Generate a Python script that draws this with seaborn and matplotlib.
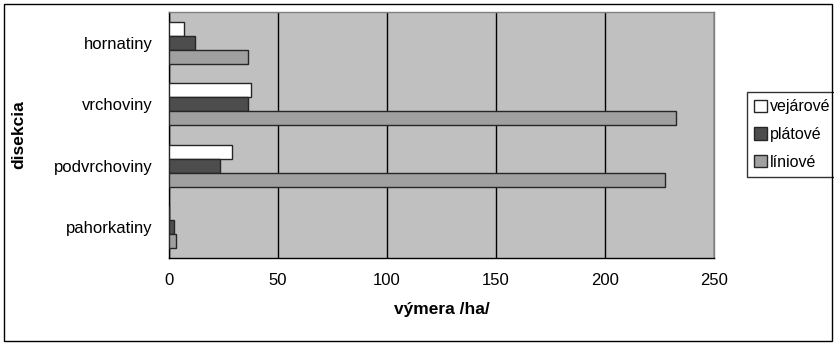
import numpy as np
import pandas as pd
import seaborn as sns
import matplotlib.pyplot as plt
from matplotlib.patches import Rectangle

# data
kategorie = ['hornatiny', 'vrchoviny', 'podvrchoviny', 'pahorkatiny']
vejarove = [6.8, 37.8, 28.8, 0.0]
platove = [11.7, 36.3, 23.2, 2.4]
liniove = [36.3, 232.4, 227.3, 3.2]
typy = ['vejárové', 'plátové', 'líniové']
farby = ['#FFFFFF', '#4D4D4D', '#A0A0A0']

df = pd.DataFrame({
    'disekcia': kategorie * 3,
    'typ': [typy[0]] * 4 + [typy[1]] * 4 + [typy[2]] * 4,
    'vymera': vejarove + platove + liniove,
})

sns.set_style('white')
plt.rcParams['font.family'] = ['Liberation Sans', 'DejaVu Sans']
plt.rcParams['text.color'] = 'black'
plt.rcParams['xtick.color'] = 'black'
plt.rcParams['ytick.color'] = 'black'
plt.rcParams['axes.labelcolor'] = 'black'

fig = plt.figure(figsize=(8.34, 3.45), dpi=100)
ax = fig.add_axes([169 / 834, 1 - 258 / 345, (714 - 169) / 834, (258 - 12) / 345])

sns.barplot(data=df, y='disekcia', x='vymera', hue='typ', order=kategorie,
            hue_order=typy, palette=farby, orient='h', width=0.68,
            edgecolor='#262626', linewidth=1.0, ax=ax, zorder=3)

ax.set_facecolor('#C0C0C0')
ax.set_xlim(0, 250)
ax.set_ylim(3.5, -0.5)
ax.set_xticks([0, 50, 100, 150, 200, 250])
ax.xaxis.grid(True, color='black', linewidth=1.0, zorder=1)
ax.set_axisbelow(True)

# category ticks between groups, like Excel
ax.set_yticks(range(4))
ax.set_yticks(np.arange(-0.5, 4, 1), minor=True)
ax.tick_params(axis='y', which='major', length=0, pad=12, labelsize=12)
ax.tick_params(axis='y', which='minor', length=5, width=1, direction='out', color='black')
ax.tick_params(axis='x', length=5, width=1, direction='out', color='black', pad=6, labelsize=12)

for s in ['left', 'bottom']:
    ax.spines[s].set_color('black')
    ax.spines[s].set_linewidth(1.0)
for s in ['top', 'right']:
    ax.spines[s].set_color('#808080')
    ax.spines[s].set_linewidth(1.0)

ax.set_xlabel('výmera /ha/', fontsize=12.5, fontweight='bold', labelpad=10)
ax.set_ylabel('disekcia', fontsize=12.5, fontweight='bold', labelpad=20)

leg = ax.legend(loc='upper left', bbox_to_anchor=(747 / 834, 1 - 92 / 345),
                bbox_transform=fig.transFigure, frameon=True, fancybox=False,
                fontsize=11.5, handlelength=0.8, handleheight=0.8, handletextpad=0.2,
                labelspacing=0.8, borderpad=0.45, borderaxespad=0)
leg.get_frame().set_edgecolor('black')
leg.get_frame().set_linewidth(1.0)

fig.patches.append(Rectangle((4 / 834, 4 / 345), 828 / 834, 337 / 345,
                             transform=fig.transFigure, fill=False,
                             edgecolor='black', linewidth=1.0))

fig.savefig('out.png', dpi=100)
